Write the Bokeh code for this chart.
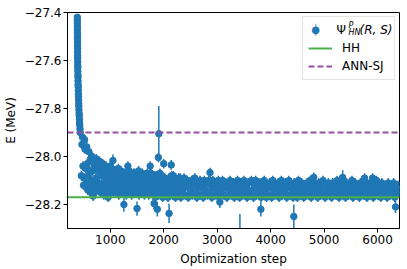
from bokeh.plotting import figure
from bokeh.models import (Range1d, FixedTicker, CustomJSTickFormatter, Legend,
                          LegendItem, Label)
from bokeh.embed import file_html
from bokeh.resources import INLINE

# ---------------- data ----------------
X_MIN, X_MAX = 200, 6410
Y_MIN, Y_MAX = -28.3, -27.4

HH_ENERGY = -28.17
ANN_SJ_ENERGY = -27.90

# initial fast descent of the optimisation
descent_steps = [384, 384, 385, 385, 386, 386, 387, 387, 388, 388,
                 389, 389, 390, 390, 391, 392, 393, 394, 395, 396,
                 397, 398, 400, 402, 404, 406, 408, 410, 412, 414,
                 417, 420, 423, 426, 430, 434, 438]
descent_energy = [-27.42, -27.43, -27.445, -27.46, -27.47, -27.485, -27.50, -27.51, -27.525, -27.54,
                  -27.55, -27.565, -27.58, -27.59, -27.605, -27.62, -27.63, -27.645, -27.66, -27.67,
                  -27.685, -27.70, -27.71, -27.725, -27.74, -27.75, -27.765, -27.78, -27.79, -27.805,
                  -27.82, -27.83, -27.845, -27.86, -27.87, -27.885, -27.90]
descent_error = [0.01] * len(descent_energy)

# noisy plateau, sampled every 20 steps from 460 to 6400
plateau_steps = list(range(460, 6401, 20))
plateau_energy = [
    -28.08, -27.92, -28.12, -27.93, -28.05, -27.96, -28.14, -27.98, -28.06, -28.15,
    -28.00, -28.16, -28.03, -28.10, -28.01, -28.13, -28.06, -28.02, -28.15, -28.08,
    -28.03, -28.16, -28.11, -28.04, -28.14, -28.16, -28.07, -28.04, -28.13, -28.09,
    -28.15, -28.11, -28.06, -28.14, -28.08, -28.16, -28.10, -28.06, -28.13, -28.15,
    -28.07, -28.12, -28.16, -28.09, -28.06, -28.14, -28.11, -28.16, -28.08, -28.13,
    -28.07, -28.15, -28.10, -28.12, -28.16, -28.08, -28.14, -28.07, -28.11, -28.16,
    -28.09, -28.13, -28.08, -28.16, -28.11, -28.07, -28.15, -28.10, -28.13, -28.17,
    -28.08, -28.12, -28.16, -28.09, -28.14, -28.08, -28.17, -28.11, -28.09, -28.15,
    -28.12, -28.17, -28.09, -28.14, -28.10, -28.16, -28.08, -28.13, -28.17, -28.10,
    -28.15, -28.09, -28.12, -28.17, -28.10, -28.14, -28.09, -28.16, -28.12, -28.10,
    -28.17, -28.11, -28.14, -28.10, -28.16, -28.12, -28.09, -28.15, -28.17, -28.11,
    -28.13, -28.10, -28.16, -28.12, -28.17, -28.10, -28.14, -28.11, -28.16, -28.10,
    -28.15, -28.12, -28.17, -28.10, -28.13, -28.16, -28.11, -28.14, -28.10, -28.17,
    -28.12, -28.15, -28.10, -28.16, -28.13, -28.11, -28.17, -28.12, -28.14, -28.10,
    -28.16, -28.13, -28.11, -28.17, -28.12, -28.15, -28.10, -28.14, -28.17, -28.11,
    -28.13, -28.16, -28.10, -28.15, -28.12, -28.17, -28.11, -28.14, -28.16, -28.10,
    -28.14, -28.17, -28.12, -28.10, -28.16, -28.13, -28.15, -28.11, -28.17, -28.12,
    -28.15, -28.10, -28.14, -28.17, -28.12, -28.16, -28.11, -28.13, -28.17, -28.10,
    -28.14, -28.16, -28.12, -28.15, -28.11, -28.17, -28.13, -28.10, -28.16, -28.12,
    -28.15, -28.11, -28.17, -28.13, -28.10, -28.16, -28.12, -28.14, -28.17, -28.11,
    -28.15, -28.12, -28.17, -28.10, -28.14, -28.16, -28.11, -28.13, -28.17, -28.12,
    -28.15, -28.11, -28.16, -28.13, -28.10, -28.17, -28.12, -28.15, -28.11, -28.16,
    -28.13, -28.17, -28.11, -28.14, -28.16, -28.12, -28.10, -28.15, -28.17, -28.12,
    -28.14, -28.11, -28.16, -28.13, -28.17, -28.11, -28.15, -28.12, -28.16, -28.10,
    -28.14, -28.17, -28.12, -28.15, -28.11, -28.16, -28.13, -28.17, -28.11, -28.14,
    -28.16, -28.12, -28.15, -28.10, -28.17, -28.13, -28.11, -28.16, -28.14, -28.12,
    -28.17, -28.11, -28.15, -28.13, -28.16, -28.10, -28.14, -28.17, -28.12, -28.15,
    -28.11, -28.16, -28.13, -28.17, -28.12, -28.15, -28.10, -28.16, -28.14, -28.12,
    -28.17, -28.11, -28.15, -28.13, -28.16, -28.12, -28.17, -28.11, -28.14, -28.16,
    -28.12, -28.15, -28.11, -28.17, -28.13, -28.16, -28.12, -28.14,
]
plateau_error = [0.02] * len(plateau_energy)
assert len(plateau_steps) == len(plateau_energy), (len(plateau_steps), len(plateau_energy))

# extra samples in the dense early part (every 20 steps from 470 to 2390)
early_steps = list(range(470, 2391, 20))
early_energy = [
    -27.95, -28.04, -28.09, -27.97, -28.11, -28.03, -28.08, -28.13, -28.01, -28.10,
    -28.06, -28.12, -28.04, -28.09, -28.14, -28.05, -28.11, -28.07, -28.04, -28.12,
    -28.08, -28.05, -28.13, -28.09, -28.06, -28.11, -28.14, -28.08, -28.05, -28.12,
    -28.09, -28.13, -28.07, -28.11, -28.05, -28.12, -28.09, -28.14, -28.07, -28.11,
    -28.13, -28.08, -28.10, -28.14, -28.06, -28.12, -28.09, -28.13, -28.07, -28.11,
    -28.13, -28.09, -28.14, -28.06, -28.12, -28.10, -28.15, -28.08, -28.13, -28.10,
    -28.14, -28.07, -28.12, -28.10, -28.15, -28.09, -28.12, -28.14, -28.08, -28.11,
    -28.14, -28.10, -28.13, -28.07, -28.12, -28.15, -28.10, -28.13, -28.11, -28.14,
    -28.10, -28.13, -28.15, -28.11, -28.08, -28.14, -28.12, -28.10, -28.15, -28.13,
    -28.11, -28.14, -28.09, -28.13, -28.15, -28.12, -28.10,
]
early_error = [0.02] * len(early_energy)
assert len(early_steps) == len(early_energy), (len(early_steps), len(early_energy))

# isolated points with larger deviations / error bars
outlier_steps = [680, 960, 1050, 1255, 1330, 1500, 1746, 1820, 1880, 1900, 1908, 2000,
                 2100, 2140, 2866, 3050, 3425, 3817, 4433, 4806, 5347, 5757, 5907, 6336]
outlier_energy = [-28.165, -28.17, -28.017, -28.20, -28.04, -28.217, -28.04, -28.196,
                  -28.22, -28.004, -27.905, -28.03, -28.237, -28.035, -28.067, -28.19,
                  -28.32, -28.22, -28.25, -28.087, -28.087, -28.09, -28.09, -28.21]
outlier_error = [0.02, 0.02, 0.025, 0.03, 0.02, 0.03, 0.02, 0.025, 0.03, 0.02, 0.115, 0.02,
                 0.04, 0.02, 0.02, 0.025, 0.08, 0.03, 0.05, 0.02, 0.03, 0.02, 0.02, 0.025]

x_ticks = [1000, 2000, 3000, 4000, 5000, 6000]
y_ticks = [-28.2, -28.0, -27.8, -27.6, -27.4]

# ---------------- assemble ----------------
steps = descent_steps + plateau_steps + early_steps + outlier_steps
energy = descent_energy + plateau_energy + early_energy + outlier_energy
error = descent_error + plateau_error + early_error + outlier_error
lower = [e - d for e, d in zip(energy, error)]
upper = [e + d for e, d in zip(energy, error)]

BLUE = "#1f77b4"
GREEN = "#4daf4a"
PURPLE = "#984ea3"
FONT = "DejaVu Sans"

p = figure(width=407, height=269, x_range=Range1d(X_MIN, X_MAX),
           y_range=Range1d(Y_MIN, Y_MAX), output_backend="svg",
           toolbar_location=None, min_border_left=66, min_border_right=8,
           min_border_top=12, min_border_bottom=41)
p.background_fill_color = "white"
p.border_fill_color = "white"
p.outline_line_color = "black"
p.outline_line_width = 1
p.xgrid.visible = False
p.ygrid.visible = False

err_r = p.segment(x0=steps, y0=lower, x1=steps, y1=upper, line_color=BLUE, line_width=1.5)
pts_r = p.scatter(x=steps, y=energy, size=6.5, fill_color=BLUE, line_color=BLUE)

hh_r = p.line(x=[X_MIN, X_MAX], y=[HH_ENERGY, HH_ENERGY], line_color=GREEN, line_width=2)
ann_r = p.line(x=[X_MIN, X_MAX], y=[ANN_SJ_ENERGY, ANN_SJ_ENERGY], line_color=PURPLE,
               line_width=2, line_dash="6 3")
# placeholder renderer for the first legend row (its symbol is drawn below as text)
key_r = p.scatter(x=[], y=[], fill_alpha=0, line_alpha=0)

for ax in (p.xaxis[0], p.yaxis[0]):
    ax.major_label_text_font = FONT
    ax.major_label_text_font_size = "12px"
    ax.major_label_text_color = "black"
    ax.axis_label_text_font = FONT
    ax.axis_label_text_font_size = "12px"
    ax.axis_label_text_font_style = "normal"
    ax.axis_label_text_color = "black"
    ax.axis_line_color = "black"
    ax.major_tick_line_color = "black"
    ax.major_tick_out = 4
    ax.major_tick_in = 0
    ax.minor_tick_out = 0
    ax.minor_tick_in = 0
    ax.major_label_standoff = 2

p.xaxis[0].axis_label_standoff = 5
p.yaxis[0].axis_label_standoff = 4
p.xaxis.ticker = FixedTicker(ticks=x_ticks)
p.yaxis.ticker = FixedTicker(ticks=y_ticks)
p.xaxis.axis_label = "Optimization step"
p.yaxis.axis_label = "E (MeV)"
p.yaxis.formatter = CustomJSTickFormatter(code="return tick.toFixed(1).replace('-', '\u2212');")

legend = Legend(items=[LegendItem(label=" ", renderers=[key_r]),
                       LegendItem(label="HH", renderers=[hh_r]),
                       LegendItem(label="ANN-SJ", renderers=[ann_r])],
                location="top_right", margin=4, padding=5, spacing=2,
                glyph_width=24, glyph_height=16, label_height=16, label_width=47,
                label_standoff=10, label_text_font=FONT, label_text_font_size="12px",
                label_text_color="black",
                border_line_color="#cccccc", border_line_width=1,
                background_fill_alpha=0.0)
p.add_layout(legend)

# legend symbol (marker with error bar) and math-style label  Psi^P_{HN}(R, S)
lab_y = 199
label_specs = [
    (248, lab_y, "\u2502", "10px", "normal", BLUE, "center"),
    (248, lab_y, "\u25cf", "10px", "normal", BLUE, "center"),
    (269, lab_y, "\u03a8", "12px", "normal", "black", "left"),
    (281, lab_y + 4, "P", "8px", "italic", "black", "left"),
    (281, lab_y - 3, "HN", "8px", "italic", "black", "left"),
    (292, lab_y, "(R, S)", "12px", "italic", "black", "left"),
]
for lx, ly, txt, fs, st, col, al in label_specs:
    p.add_layout(Label(x=lx, y=ly, x_units="screen", y_units="screen", text=txt,
                       text_font=FONT, text_font_size=fs, text_font_style=st,
                       text_color=col, text_align=al, text_baseline="middle",
                       level="overlay"))

open("out.html", "w").write(file_html(p, INLINE))
